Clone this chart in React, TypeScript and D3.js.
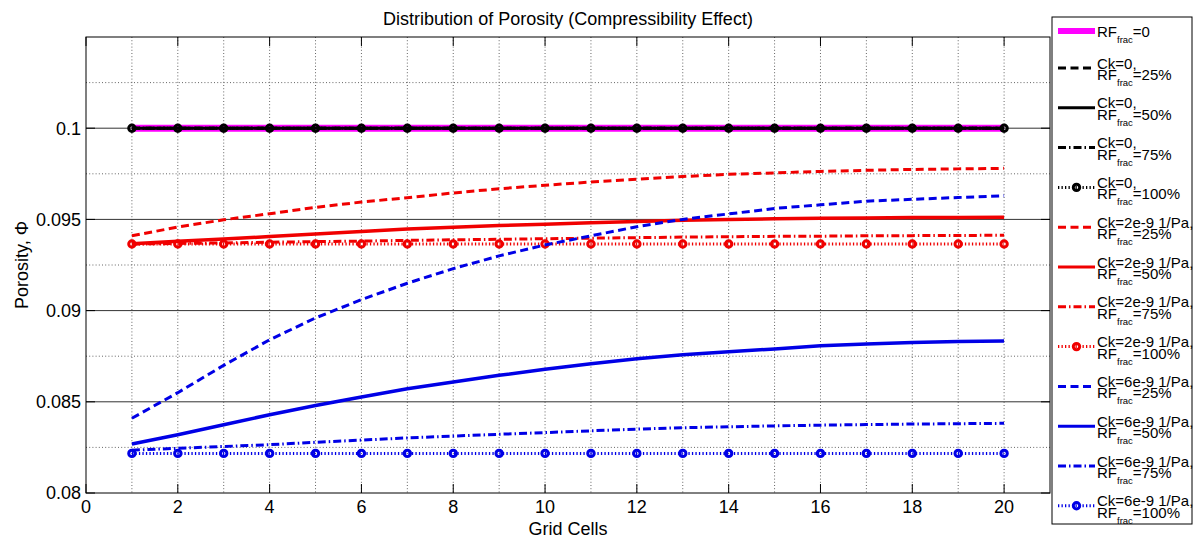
import React from "react";
import * as d3 from "d3";

// Grid cell index along the x axis
const cells = [1, 2, 3, 4, 5, 6, 7, 8, 9, 10, 11, 12, 13, 14, 15, 16, 17, 18, 19, 20];

// Porosity per grid cell
const rf0 = [0.1, 0.1, 0.1, 0.1, 0.1, 0.1, 0.1, 0.1, 0.1, 0.1, 0.1, 0.1, 0.1, 0.1, 0.1, 0.1, 0.1, 0.1, 0.1, 0.1];
const ck0rf25 = [0.1, 0.1, 0.1, 0.1, 0.1, 0.1, 0.1, 0.1, 0.1, 0.1, 0.1, 0.1, 0.1, 0.1, 0.1, 0.1, 0.1, 0.1, 0.1, 0.1];
const ck0rf50 = [0.1, 0.1, 0.1, 0.1, 0.1, 0.1, 0.1, 0.1, 0.1, 0.1, 0.1, 0.1, 0.1, 0.1, 0.1, 0.1, 0.1, 0.1, 0.1, 0.1];
const ck0rf75 = [0.1, 0.1, 0.1, 0.1, 0.1, 0.1, 0.1, 0.1, 0.1, 0.1, 0.1, 0.1, 0.1, 0.1, 0.1, 0.1, 0.1, 0.1, 0.1, 0.1];
const ck0rf100 = [0.1, 0.1, 0.1, 0.1, 0.1, 0.1, 0.1, 0.1, 0.1, 0.1, 0.1, 0.1, 0.1, 0.1, 0.1, 0.1, 0.1, 0.1, 0.1, 0.1];
const ck2rf25 = [0.0941, 0.09458, 0.09498, 0.09531, 0.09566, 0.09595, 0.09619, 0.09645, 0.09668, 0.09687, 0.09705, 0.0972, 0.09735, 0.09747, 0.09755, 0.09763, 0.09769, 0.09774, 0.09777, 0.0978];
const ck2rf50 = [0.09366, 0.0938, 0.09392, 0.09406, 0.0942, 0.09434, 0.09447, 0.09457, 0.09466, 0.09474, 0.09482, 0.09489, 0.09495, 0.095, 0.09503, 0.09506, 0.09508, 0.0951, 0.09511, 0.09512];
const ck2rf75 = [0.09365, 0.09368, 0.09371, 0.09375, 0.09378, 0.09381, 0.09385, 0.09388, 0.09391, 0.09394, 0.09397, 0.094, 0.09403, 0.09405, 0.09407, 0.09408, 0.0941, 0.09411, 0.09412, 0.09413];
const ck2rf100 = [0.09365, 0.09365, 0.09365, 0.09365, 0.09365, 0.09365, 0.09365, 0.09365, 0.09365, 0.09365, 0.09365, 0.09365, 0.09365, 0.09365, 0.09365, 0.09365, 0.09365, 0.09365, 0.09365, 0.09365];
const ck6rf25 = [0.0841, 0.0855, 0.087, 0.0884, 0.0896, 0.0906, 0.0915, 0.0923, 0.093, 0.0936, 0.0941, 0.0946, 0.095, 0.0953, 0.0956, 0.0958, 0.096, 0.0961, 0.0962, 0.0963];
const ck6rf50 = [0.08269, 0.08319, 0.08374, 0.08429, 0.0848, 0.08526, 0.08571, 0.08608, 0.08645, 0.08678, 0.08709, 0.08736, 0.08758, 0.08774, 0.0879, 0.08807, 0.08817, 0.08825, 0.0883, 0.08834];
const ck6rf75 = [0.08235, 0.08245, 0.08255, 0.08265, 0.08278, 0.0829, 0.08302, 0.08312, 0.08322, 0.08331, 0.08341, 0.0835, 0.08358, 0.08363, 0.08368, 0.08372, 0.08375, 0.08378, 0.0838, 0.08382];
const ck6rf100 = [0.08217, 0.08217, 0.08217, 0.08217, 0.08217, 0.08217, 0.08217, 0.08217, 0.08217, 0.08217, 0.08217, 0.08217, 0.08217, 0.08217, 0.08217, 0.08217, 0.08217, 0.08217, 0.08217, 0.08217];

// Axis ticks
const xTicks = [0, 2, 4, 6, 8, 10, 12, 14, 16, 18, 20];
const xMinor = [1, 2, 3, 4, 5, 6, 7, 8, 9, 10, 11, 12, 13, 14, 15, 16, 17, 18, 19, 20];
const yTicks = [0.08, 0.085, 0.09, 0.095, 0.1];
const yMinor = [0.0825, 0.0875, 0.0925, 0.0975, 0.1025];
const yTickLabels = ["0.08", "0.085", "0.09", "0.095", "0.1"];

type Style = "solid" | "dashed" | "dashdot" | "dotted";

interface Series {
  values: number[];
  color: string;
  style: Style;
  width: number;
  marker: boolean;
  ck: string | null;
  rf: string;
}

const MAGENTA = "#ff00ff";
const BLACK = "#000000";
const RED = "#f00000";
const BLUE = "#0000e6";

const series: Series[] = [
  { values: rf0, color: MAGENTA, style: "solid", width: 7, marker: false, ck: null, rf: "=0" },
  { values: ck0rf25, color: BLACK, style: "dashed", width: 3, marker: false, ck: "Ck=0,", rf: "=25%" },
  { values: ck0rf50, color: BLACK, style: "solid", width: 3, marker: false, ck: "Ck=0,", rf: "=50%" },
  { values: ck0rf75, color: BLACK, style: "dashdot", width: 3, marker: false, ck: "Ck=0,", rf: "=75%" },
  { values: ck0rf100, color: BLACK, style: "dotted", width: 3, marker: true, ck: "Ck=0,", rf: "=100%" },
  { values: ck2rf25, color: RED, style: "dashed", width: 3, marker: false, ck: "Ck=2e-9 1/Pa,", rf: "=25%" },
  { values: ck2rf50, color: RED, style: "solid", width: 3.5, marker: false, ck: "Ck=2e-9 1/Pa,", rf: "=50%" },
  { values: ck2rf75, color: RED, style: "dashdot", width: 3, marker: false, ck: "Ck=2e-9 1/Pa,", rf: "=75%" },
  { values: ck2rf100, color: RED, style: "dotted", width: 3, marker: true, ck: "Ck=2e-9 1/Pa,", rf: "=100%" },
  { values: ck6rf25, color: BLUE, style: "dashed", width: 3, marker: false, ck: "Ck=6e-9 1/Pa,", rf: "=25%" },
  { values: ck6rf50, color: BLUE, style: "solid", width: 3.5, marker: false, ck: "Ck=6e-9 1/Pa,", rf: "=50%" },
  { values: ck6rf75, color: BLUE, style: "dashdot", width: 3, marker: false, ck: "Ck=6e-9 1/Pa,", rf: "=75%" },
  { values: ck6rf100, color: BLUE, style: "dotted", width: 3, marker: true, ck: "Ck=6e-9 1/Pa,", rf: "=100%" },
];

const dashFor = (s: Style): string | undefined => {
  if (s === "dashed") return "8 4.5";
  if (s === "dashdot") return "8 3 1.5 3";
  if (s === "dotted") return "1.3 2.2";
  return undefined;
};

const W = 1193;
const H = 544;
const plot = { left: 86, right: 1050, top: 37, bottom: 493 };
const FONT = "'Liberation Sans', Arial, Helvetica, sans-serif";

export default function App() {
  const x = d3.scaleLinear().domain([0, 21]).range([plot.left, plot.right]);
  const y = d3.scaleLinear().domain([0.08, 0.105]).range([plot.bottom, plot.top]);

  const line = d3
    .line<number>()
    .x((_, i) => x(cells[i]))
    .y((v) => y(v));

  const legend = { left: 1052, top: 17, right: 1192, bottom: 524 };
  const legendRowY = (i: number) => (i === 0 ? 31 : 68 + (i - 1) * 39.8);
  const lx0 = 1058;
  const lx1 = 1095;
  const tx = 1097;

  return (
    <svg
      width={W}
      height={H}
      viewBox={`0 0 ${W} ${H}`}
      style={{ position: "absolute", left: 0, top: 0, background: "#fff" }}
      fontFamily={FONT}
    >
      <rect x={0} y={0} width={W} height={H} fill="#fff" />

      {/* dotted grid */}
      <g stroke="#666" strokeWidth={1} strokeDasharray="1 2.2">
        {xMinor.map((t) => (
          <line key={`gx${t}`} x1={x(t)} x2={x(t)} y1={plot.top} y2={plot.bottom} />
        ))}
        {yMinor.map((t) => (
          <line key={`gy${t}`} x1={plot.left} x2={plot.right} y1={y(t)} y2={y(t)} />
        ))}
      </g>
      {/* solid major horizontal grid */}
      <g stroke="#333" strokeWidth={1}>
        {yTicks.slice(1).map((t) => (
          <line key={`gm${t}`} x1={plot.left} x2={plot.right} y1={y(t)} y2={y(t)} />
        ))}
      </g>

      {/* tick marks */}
      <g stroke="#000" strokeWidth={1}>
        {xTicks.map((t) => (
          <g key={`xt${t}`}>
            <line x1={x(t)} x2={x(t)} y1={plot.bottom} y2={plot.bottom - 9} />
            <line x1={x(t)} x2={x(t)} y1={plot.top} y2={plot.top + 9} />
          </g>
        ))}
        {yTicks.map((t) => (
          <g key={`yt${t}`}>
            <line x1={plot.left} x2={plot.left + 9} y1={y(t)} y2={y(t)} />
            <line x1={plot.right} x2={plot.right - 9} y1={y(t)} y2={y(t)} />
          </g>
        ))}
      </g>

      {/* data series */}
      {series.map((s, si) => (
        <g key={`s${si}`}>
          <path
            d={line(s.values) || ""}
            fill="none"
            stroke={s.color}
            strokeWidth={s.width}
            strokeDasharray={dashFor(s.style)}
          />
          {s.marker &&
            s.values.map((v, i) => (
              <circle
                key={i}
                cx={x(cells[i])}
                cy={y(v)}
                r={3.2}
                fill="none"
                stroke={s.color}
                strokeWidth={3}
              />
            ))}
        </g>
      ))}

      {/* axes frame */}
      <rect
        x={plot.left}
        y={plot.top}
        width={plot.right - plot.left}
        height={plot.bottom - plot.top}
        fill="none"
        stroke="#000"
        strokeWidth={1}
      />

      {/* tick labels */}
      <g fontSize={18} fill="#000">
        {xTicks.map((t) => (
          <text key={`xl${t}`} x={x(t)} y={513} textAnchor="middle">
            {t}
          </text>
        ))}
        {yTicks.map((t, i) => (
          <text key={`yl${t}`} x={81} y={y(t)} dy="0.36em" textAnchor="end">
            {yTickLabels[i]}
          </text>
        ))}
      </g>

      {/* title and axis labels */}
      <text x={(plot.left + plot.right) / 2} y={25} textAnchor="middle" fontSize={18}>
        Distribution of Porosity (Compressibility Effect)
      </text>
      <text x={(plot.left + plot.right) / 2} y={535} textAnchor="middle" fontSize={18}>
        Grid Cells
      </text>
      <text
        transform={`translate(28, ${(plot.top + plot.bottom) / 2}) rotate(-90)`}
        textAnchor="middle"
        fontSize={18}
      >
        Porosity, Φ
      </text>

      {/* legend */}
      <rect
        x={legend.left}
        y={legend.top}
        width={legend.right - legend.left}
        height={legend.bottom - legend.top}
        fill="#fff"
        stroke="#000"
        strokeWidth={1}
      />
      {series.map((s, i) => {
        const ly = legendRowY(i);
        return (
          <g key={`lg${i}`}>
            <line
              x1={lx0}
              x2={lx1}
              y1={ly}
              y2={ly}
              stroke={s.color}
              strokeWidth={s.width === 7 ? 6 : 3}
              strokeDasharray={dashFor(s.style)}
            />
            {s.marker && (
              <circle cx={(lx0 + lx1) / 2} cy={ly} r={3.2} fill="none" stroke={s.color} strokeWidth={3} />
            )}
            {s.ck ? (
              <text x={tx} y={ly + 0.5} fontSize={15} fill="#000">
                {s.ck}
                <tspan x={tx} dy={11.5}>
                  RF
                </tspan>
                <tspan fontSize={9.5} dy={6}>
                  frac
                </tspan>
                <tspan dy={-6}>{s.rf}</tspan>
              </text>
            ) : (
              <text x={tx} y={ly + 6} fontSize={15} fill="#000">
                RF
                <tspan fontSize={9.5} dy={6}>
                  frac
                </tspan>
                <tspan dy={-6}>{s.rf}</tspan>
              </text>
            )}
          </g>
        );
      })}
    </svg>
  );
}
